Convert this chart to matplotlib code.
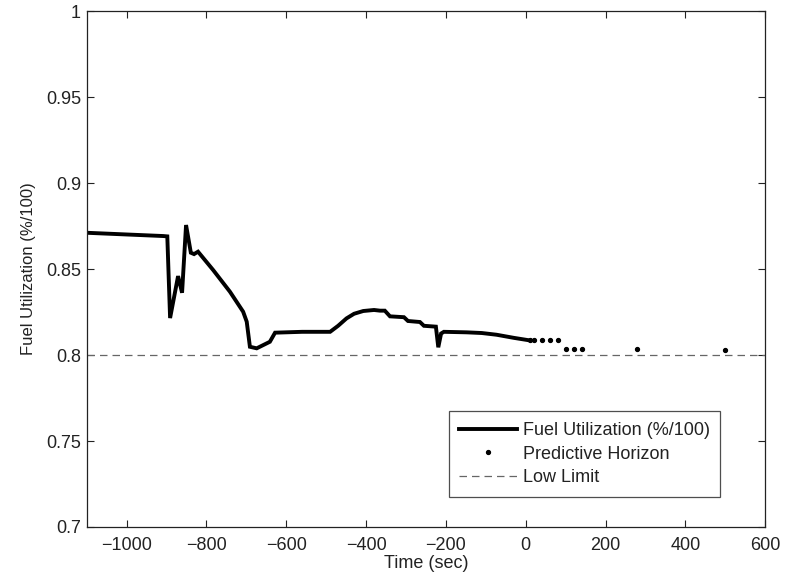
import matplotlib
matplotlib.use("Agg")
import matplotlib.pyplot as plt

plt.rcParams['font.family'] = ['Liberation Sans', 'DejaVu Sans']

# Measured fuel utilization history
time_hist = [-1100, -908, -898, -891, -871, -861, -851, -839, -831, -821,
             -783, -741, -708, -699, -691, -674, -641, -628, -560, -490,
             -470, -449, -430, -407, -380, -365, -353, -340, -305, -295,
             -265, -255, -225, -219, -212, -205, -148, -110, -73, -30, 5]
fu_hist = [0.8711, 0.8692, 0.8690, 0.8215, 0.8459, 0.8362, 0.8756, 0.8595, 0.8587, 0.8601,
           0.8494, 0.8368, 0.8252, 0.8194, 0.8048, 0.8039, 0.8077, 0.8130, 0.8135, 0.8135,
           0.8170, 0.8213, 0.8240, 0.8256, 0.8262, 0.8258, 0.8258, 0.8225, 0.8220, 0.8198,
           0.8192, 0.8170, 0.8165, 0.8045, 0.8125, 0.8135, 0.8132, 0.8128, 0.8118, 0.8100, 0.8087]

# Predictive horizon points
time_pred = [10, 20, 40, 60, 80, 100, 120, 140, 280, 500]
fu_pred = [0.8086, 0.8086, 0.8086, 0.8086, 0.8086, 0.8035, 0.8035, 0.8035, 0.8035, 0.8030]

# Low limit
time_lim = [-1100, 600]
fu_lim = [0.8, 0.8]

fig = plt.figure(figsize=(7.88, 5.77), dpi=100)
ax = fig.add_axes([0.110, 0.0867, 0.861, 0.894])

ax.plot(time_hist, fu_hist, color='black', lw=2.8, solid_joinstyle='miter',
        label='Fuel Utilization (%/100)')
ax.plot(time_pred, fu_pred, linestyle='none', marker='o', markersize=2.8,
        color='black', label='Predictive Horizon')
ax.plot(time_lim, fu_lim, color='#666666', lw=0.9, dashes=(6, 4), label='Low Limit')

ax.set_xlim(-1100, 600)
ax.set_ylim(0.7, 1.0)
ax.set_xticks([-1000, -800, -600, -400, -200, 0, 200, 400, 600])
ax.set_xticklabels(['\u22121000', '\u2212800', '\u2212600', '\u2212400', '\u2212200',
                    '0', '200', '400', '600'])
ax.set_yticks([0.7, 0.75, 0.8, 0.85, 0.9, 0.95, 1.0])
ax.set_yticklabels(['0.7', '0.75', '0.8', '0.85', '0.9', '0.95', '1'])
ax.tick_params(direction='in', top=True, right=True, length=5, width=0.8,
               labelsize=13, colors='#222222')
ax.tick_params(axis='x', pad=7)
ax.tick_params(axis='y', pad=4)
for s in ax.spines.values():
    s.set_linewidth(0.9)
    s.set_color('#222222')

ax.set_xlabel('Time (sec)', fontsize=13, labelpad=1, color='#222222')
ax.set_ylabel('Fuel Utilization (%/100)', fontsize=12, labelpad=7, color='#222222')

leg = ax.legend(loc='lower right', bbox_to_anchor=(0.934, 0.058), fontsize=13,
                frameon=True, fancybox=False, edgecolor='#222222', handlelength=3.2,
                borderpad=0.6, labelspacing=0.37, handletextpad=0.3, borderaxespad=0,
                labelcolor='#222222')
leg.get_frame().set_linewidth(0.9)

fig.savefig('out.png', dpi=100)
